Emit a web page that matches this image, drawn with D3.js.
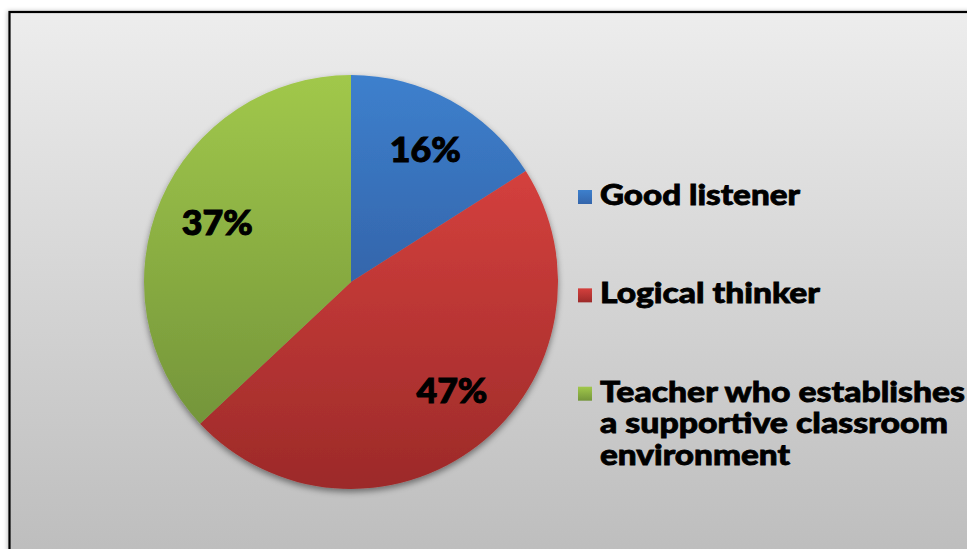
<!DOCTYPE html>
<html>
<head>
<meta charset="utf-8">
<script src="https://cdn.jsdelivr.net/npm/d3@7/dist/d3.min.js"></script>
<style>
  html, body { margin: 0; padding: 0; background: #ffffff; }
  svg { display: block; }
  text { font-family: "Lato", "Open Sans", sans-serif; font-weight: 900; fill: #000; stroke: #000; }
</style>
</head>
<body>
<svg id="chart" width="967" height="549"></svg>
<script>
// Survey shares of the preferred teacher qualities
const categories = ["Good listener", "Logical thinker", "Teacher who establishes a supportive classroom environment"];
const values = [16, 47, 37];
const valueLabels = ["16%", "47%", "37%"];
const legendLines = [["Good listener"], ["Logical thinker"], ["Teacher who establishes", "a supportive classroom", "environment"]];
const legendLineWidths = [[200], [220], [365, 348, 190]];
const colorsLight = ["#3d80cd", "#d4403d", "#a1c84b"];
const colorsDark = ["#3465ab", "#9c2a29", "#74953a"];

const W = 967, H = 549;
const svg = d3.select("#chart");
const defs = svg.append("defs");

// Frame background gradient
const bg = defs.append("linearGradient").attr("id", "bg").attr("x1", 0).attr("y1", 0).attr("x2", 0).attr("y2", 1);
bg.append("stop").attr("offset", "0%").attr("stop-color", "#ededed");
bg.append("stop").attr("offset", "100%").attr("stop-color", "#bbbbbb");

const frameShadow = defs.append("filter").attr("id", "fshadow").attr("x", "-5%").attr("y", "-5%").attr("width", "110%").attr("height", "110%");
frameShadow.append("feDropShadow").attr("dx", -1).attr("dy", 0).attr("stdDeviation", 2).attr("flood-color", "#000").attr("flood-opacity", 0.25);

svg.append("rect")
  .attr("x", 9.5).attr("y", 12).attr("width", W + 20).attr("height", H + 20)
  .attr("fill", "url(#bg)")
  .attr("stroke", "#000").attr("stroke-width", 2.2)
  .attr("filter", "url(#fshadow)");

// Slice gradients
categories.forEach((c, i) => {
  const g = defs.append("linearGradient").attr("id", "slice" + i)
    .attr("x1", 0).attr("y1", 0).attr("x2", 0).attr("y2", 1);
  g.append("stop").attr("offset", "0%").attr("stop-color", colorsLight[i]);
  g.append("stop").attr("offset", "100%").attr("stop-color", colorsDark[i]);
});

const pieShadow = defs.append("filter").attr("id", "pshadow").attr("x", "-10%").attr("y", "-10%").attr("width", "120%").attr("height", "120%");
pieShadow.append("feDropShadow").attr("dx", 0).attr("dy", 3).attr("stdDeviation", 3).attr("flood-color", "#000").attr("flood-opacity", 0.45);

const cx = 351, cy = 282, R = 207;
const pie = d3.pie().sort(null).value(d => d)(values);
const arc = d3.arc().innerRadius(0).outerRadius(R);
const labelArc = d3.arc().innerRadius(150).outerRadius(150);
// best-fit nudges for the data labels
const labelNudge = [[2, -1], [9, -10], [4, 0]];

const g = svg.append("g").attr("transform", `translate(${cx},${cy})`);
g.append("g").attr("filter", "url(#pshadow)")
  .selectAll("path").data(pie).join("path")
  .attr("d", arc)
  .attr("fill", (d, i) => `url(#slice${i})`);

g.selectAll("text.pct").data(pie).join("text")
  .attr("class", "pct")
  .attr("x", (d, i) => labelArc.centroid(d)[0] + labelNudge[i][0])
  .attr("y", (d, i) => labelArc.centroid(d)[1] + labelNudge[i][1] + 12.5)
  .attr("text-anchor", "middle")
  .attr("font-size", 34)
  .attr("stroke-width", 1)
  .attr("textLength", 71)
  .attr("lengthAdjust", "spacingAndGlyphs")
  .text((d, i) => valueLabels[i]);

// Legend
const legendY = d3.scalePoint().domain(d3.range(categories.length)).range([205, 401.7]);
const lg = svg.append("g");
categories.forEach((c, i) => {
  const y = legendY(i);
  const sq = defs.append("linearGradient").attr("id", "leg" + i).attr("x1", 0).attr("y1", 0).attr("x2", 0).attr("y2", 1);
  sq.append("stop").attr("offset", "0%").attr("stop-color", colorsLight[i]);
  sq.append("stop").attr("offset", "100%").attr("stop-color", colorsDark[i]);
  lg.append("rect").attr("x", 578).attr("y", y - 15).attr("width", 14).attr("height", 14).attr("fill", `url(#leg${i})`);
  legendLines[i].forEach((line, j) => {
    lg.append("text")
      .attr("x", 600).attr("y", y + j * 31.7)
      .attr("font-size", 29)
      .attr("stroke-width", 0.8)
      .attr("textLength", legendLineWidths[i][j])
      .attr("lengthAdjust", "spacingAndGlyphs")
      .text(line);
  });
});
</script>
</body>
</html>
